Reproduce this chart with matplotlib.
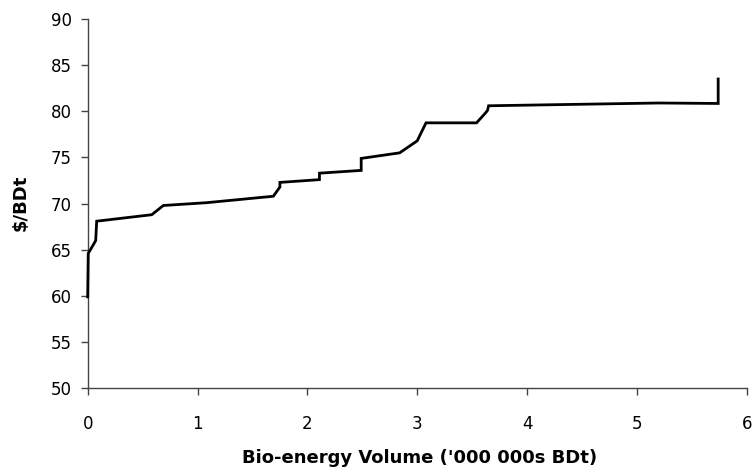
import matplotlib
matplotlib.use("Agg")
import matplotlib.pyplot as plt

volume = [0.0, 0.005, 0.073, 0.082, 0.583, 0.689, 1.08, 1.69, 1.75, 1.75, 2.11, 2.11,
          2.49, 2.49, 2.84, 3.00, 3.08, 3.54, 3.62, 3.64, 3.65, 5.20, 5.74, 5.74]
price = [59.9, 64.6, 66.0, 68.1, 68.8, 69.8, 70.1, 70.8, 71.8, 72.3, 72.6, 73.3,
         73.6, 74.9, 75.5, 76.8, 78.75, 78.75, 79.8, 80.1, 80.6, 80.9, 80.85, 83.5]

x_ticks = [0, 1, 2, 3, 4, 5, 6]
y_ticks = [50, 55, 60, 65, 70, 75, 80, 85, 90]

plt.rcParams['font.family'] = ['DejaVu Sans']

fig = plt.figure(figsize=(7.52, 4.71), dpi=100)
ax = fig.add_axes([0.1166, 0.1756, 0.993 - 0.1166, 0.9597 - 0.1756])
ax.plot(volume, price, color='black', lw=2, solid_joinstyle='miter', clip_on=False, zorder=3)
ax.set_xlim(0, 6)
ax.set_ylim(50, 90)
ax.set_xticks(x_ticks)
ax.set_yticks(y_ticks)
ax.spines['top'].set_visible(False)
ax.spines['right'].set_visible(False)
for s in ('left', 'bottom'):
    ax.spines[s].set_color('#444444')
    ax.spines[s].set_linewidth(1.0)
ax.tick_params(direction='out', length=5, width=1, color='#444444', labelsize=12)
ax.tick_params(axis='x', pad=14)
ax.tick_params(axis='y', pad=6.5)
ax.set_xlabel("Bio-energy Volume ('000 000s BDt)", fontsize=13, fontweight='bold', va='center')
ax.xaxis.set_label_coords(0.504, -0.1887)
ax.set_ylabel("$/BDt", fontsize=13, fontweight='bold', va='center')
ax.yaxis.set_label_coords(-0.1012, 0.5026)

fig.savefig("out.png", dpi=100)
